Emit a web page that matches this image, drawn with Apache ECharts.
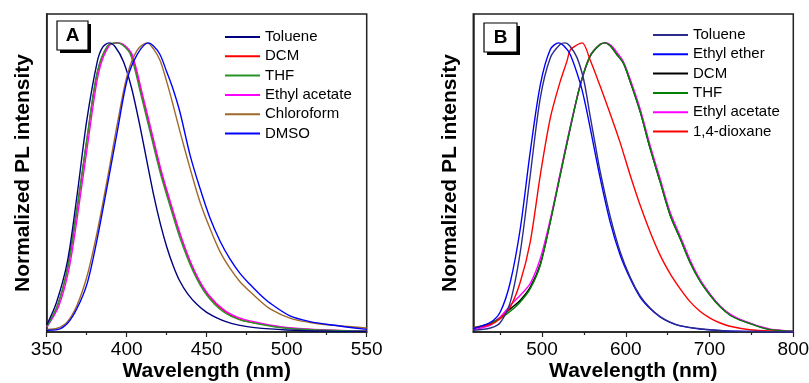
<!DOCTYPE html>
<html>
<head>
<meta charset="utf-8">
<script src="https://cdn.jsdelivr.net/npm/echarts@6/dist/echarts.min.js"></script>
<style>html,body{margin:0;padding:0;background:#fff}#c{width:809px;height:383px}</style>
</head>
<body>
<div id="c"></div>
<script>
// ---------- Panel A data (wavelength nm, normalized PL) ----------
const aToluene = [[350,0.024],[356,0.10],[363,0.245],[369,0.474],[375,0.73],[381.6,0.935],[385,0.985],[389,1.0],[393,0.985],[398,0.935],[403,0.845],[408,0.72],[413,0.58],[417,0.47],[421,0.375],[425,0.295],[429,0.23],[433,0.178],[438,0.133],[444,0.095],[450,0.068],[456,0.05],[462,0.036],[470,0.024],[480,0.015],[500,0.007],[525,0.003],[550,0.002]];
const aDCM = [[350,0.018],[356.6,0.088],[363,0.218],[369,0.425],[375.4,0.675],[381.6,0.895],[388,0.988],[394.5,1.0],[398.5,0.99],[403,0.958],[409,0.83],[417,0.647],[421.5,0.55],[425.5,0.474],[434,0.325],[442,0.21],[450.5,0.13],[461,0.072],[471,0.043],[483.5,0.028],[500,0.014],[525,0.006],[550,0.003]];
const aTHF = [[350,0.018],[356.6,0.09],[363,0.22],[369,0.43],[375.4,0.68],[381.6,0.90],[388,0.99],[394,1.0],[398,0.99],[402.5,0.958],[408.5,0.83],[416.6,0.647],[421,0.55],[425,0.474],[433.3,0.325],[441.6,0.209],[450,0.128],[460.4,0.07],[470.8,0.042],[483.3,0.027],[500,0.013],[525,0.006],[550,0.003]];
const aEthylAcetate = [[350,0.016],[357.6,0.09],[364,0.22],[370,0.43],[376.4,0.68],[382.6,0.90],[389,0.99],[395,1.0],[399,0.99],[403.5,0.958],[409.5,0.83],[417.6,0.647],[422,0.55],[426,0.474],[434.3,0.325],[442.6,0.209],[451,0.13],[461.4,0.074],[471.8,0.046],[484.3,0.03],[500,0.016],[525,0.007],[550,0.003]];
const aChloroform = [[350,0.009],[356.6,0.013],[363,0.036],[369,0.093],[375.4,0.197],[381.6,0.347],[388,0.532],[394,0.716],[400.4,0.89],[406.6,0.975],[412.7,1.0],[416.6,0.98],[420.8,0.94],[425,0.866],[429,0.785],[433.3,0.693],[439.6,0.566],[445.8,0.45],[452,0.359],[458.3,0.278],[464.6,0.22],[470.8,0.174],[477,0.14],[483.3,0.108],[489.6,0.08],[502,0.048],[514.6,0.033],[527,0.024],[550,0.014]];
const aDMSO = [[350,0.006],[356.6,0.008],[363,0.03],[369,0.082],[375.4,0.17],[381.6,0.323],[388,0.51],[394,0.69],[400.4,0.875],[406.6,0.96],[413.5,1.0],[416.6,0.99],[420.8,0.96],[425,0.90],[429,0.84],[433.3,0.76],[439.6,0.612],[445.8,0.497],[452,0.395],[458.3,0.315],[464.6,0.252],[470.8,0.203],[477,0.165],[483.3,0.13],[489.6,0.1],[502,0.056],[514.6,0.036],[527,0.025],[550,0.009]];

// ---------- Panel B data ----------
const bToluene = [[418,0.006],[438.4,0.014],[450.3,0.033],[462.2,0.104],[474.1,0.277],[486,0.543],[498,0.81],[509.9,0.948],[521.8,0.995],[527.8,1.0],[533,0.99],[541.7,0.95],[550,0.87],[557.6,0.745],[563.5,0.65],[569.5,0.555],[581.4,0.40],[593.3,0.278],[605.2,0.19],[617.1,0.125],[629,0.083],[641,0.053],[652.9,0.034],[664.8,0.022],[688.6,0.011],[720,0.004],[800,0.001]];
const bEthylEther = [[418,0.012],[438.4,0.033],[450.3,0.07],[462.2,0.173],[474.1,0.358],[486,0.624],[498,0.855],[509.9,0.977],[520,1.0],[526,0.99],[533.7,0.96],[545.7,0.86],[551.6,0.79],[557.6,0.705],[569.5,0.532],[581.4,0.38],[593.3,0.266],[605.2,0.185],[617.1,0.121],[629,0.081],[641,0.052],[652.9,0.033],[664.8,0.021],[688.6,0.01],[720,0.004],[800,0.001]];
const bDCM = [[418,0.012],[438.4,0.03],[450.3,0.05],[462.2,0.08],[474.1,0.11],[486,0.155],[498,0.235],[509.9,0.382],[521.8,0.545],[533.7,0.705],[545.7,0.855],[557.6,0.955],[569.5,0.995],[575.5,1.0],[581.4,0.99],[589.3,0.96],[597.2,0.93],[605.2,0.867],[617.1,0.763],[629,0.636],[641,0.52],[652.9,0.405],[664.8,0.324],[676.7,0.242],[688.6,0.178],[700.6,0.129],[712.5,0.089],[724.4,0.06],[736.3,0.043],[748.2,0.03],[760.2,0.018],[772.1,0.009],[784,0.005],[800,0.002]];
const bTHF = [[418,0.015],[438.4,0.03],[450.3,0.047],[462.2,0.072],[474.1,0.104],[486,0.15],[498,0.231],[509.9,0.38],[521.8,0.543],[533.7,0.705],[545.7,0.855],[557.6,0.955],[569.5,0.995],[575.5,1.0],[581.4,0.99],[589.3,0.96],[597.2,0.93],[605.2,0.867],[617.1,0.763],[629,0.636],[641,0.52],[652.9,0.405],[664.8,0.324],[676.7,0.24],[688.6,0.176],[700.6,0.127],[712.5,0.087],[724.4,0.058],[736.3,0.041],[748.2,0.029],[760.2,0.017],[772.1,0.008],[784,0.005],[800,0.002]];
const bEthylAcetate = [[418,0.008],[438.4,0.024],[450.3,0.052],[462.2,0.092],[474.1,0.127],[486,0.168],[498,0.254],[509.9,0.39],[521.8,0.55],[533.7,0.71],[545.7,0.855],[557.6,0.955],[569.5,0.995],[577,1.0],[583,0.99],[590,0.965],[597.2,0.935],[605.2,0.875],[617.1,0.772],[629,0.646],[641,0.53],[652.9,0.415],[664.8,0.333],[676.7,0.25],[688.6,0.182],[700.6,0.132],[712.5,0.09],[724.4,0.062],[736.3,0.044],[748.2,0.031],[760.2,0.019],[772.1,0.01],[784,0.006],[800,0.002]];
const bDioxane = [[418,0.015],[438.4,0.026],[450.3,0.047],[462.2,0.087],[474.1,0.173],[486,0.312],[498,0.543],[509.9,0.74],[521.8,0.867],[529.7,0.936],[533.7,0.975],[540,0.99],[548,1.0],[557.6,0.94],[569.5,0.85],[581.4,0.755],[593.3,0.655],[605.2,0.543],[617.1,0.439],[629,0.347],[641,0.266],[652.9,0.202],[664.8,0.15],[676.7,0.105],[688.6,0.072],[700.6,0.048],[712,0.032],[724.4,0.02],[748,0.008],[775,0.003],[800,0.001]];

// ---------- labels ----------
const aLegendOrder = ['Toluene','DCM','THF','Ethyl acetate','Chloroform','DMSO'];
const bLegendOrder = ['Toluene','Ethyl ether','DCM','THF','Ethyl acetate','1,4-dioxane'];
const aTicks = [350,400,450,500,550];
const bTicks = [500,600,700,800];
const bMinorTicks = [450,550,650,750];
const xTitle = 'Wavelength (nm)';
const yTitle = 'Normalized PL intensity';

const FONT = '"Liberation Sans", Arial, sans-serif';
const frame = '#222';

function ser(panel, name, data, color, xi, yi) {
  return {
    type: 'line', name: panel + '|' + name, data: data,
    xAxisIndex: xi, yAxisIndex: yi, showSymbol: false, symbol: 'none',
    smooth: 0.3, lineStyle: {color: color, width: 1.4}, itemStyle: {color: color},
    silent: true, animation: false
  };
}

const series = [
  ser('A','DCM',aDCM,'#ff0000',0,0),
  ser('A','Ethyl acetate',aEthylAcetate,'#ff00ff',0,0),
  ser('A','THF',aTHF,'#2a922a',0,0),
  ser('A','Toluene',aToluene,'#000080',0,0),
  ser('A','Chloroform',aChloroform,'#a0692a',0,0),
  ser('A','DMSO',aDMSO,'#0000ff',0,0),
  ser('B','DCM',bDCM,'#000000',1,1),
  ser('B','Ethyl acetate',bEthylAcetate,'#ff00ff',1,1),
  ser('B','THF',bTHF,'#008000',1,1),
  ser('B','1,4-dioxane',bDioxane,'#ff0000',1,1),
  ser('B','Ethyl ether',bEthylEther,'#0000ff',1,1),
  ser('B','Toluene',bToluene,'#2b2b8c',1,1)
];

const legendText = {color:'#000', fontFamily: FONT, fontSize: 15, lineHeight: 17};
function legend(panel, order, left, top) {
  return {
    orient: 'vertical', left: left, top: top, itemWidth: 35, itemHeight: 2,
    itemGap: 2.3, icon: 'rect', padding: 0, selectedMode: false,
    data: order.map(n => panel + '|' + n),
    formatter: n => n.split('|')[1],
    textStyle: legendText
  };
}

const axisLabelStyle = {color:'#000', fontFamily: FONT, fontSize: 19, margin: 8};
const nameStyle = {color:'#000', fontFamily: FONT, fontSize: 21, fontWeight: 'bold'};

const option = {
  animation: false,
  backgroundColor: '#fff',
  grid: [
    {left: 46.7, top: 14, width: 320, height: 318, show: true, borderColor: frame, borderWidth: 1.5, backgroundColor: 'transparent', containLabel: false, outerBoundsMode: 'none'},
    {left: 473.3, top: 14, width: 320, height: 318, show: true, borderColor: frame, borderWidth: 1.5, backgroundColor: 'transparent', containLabel: false, outerBoundsMode: 'none'}
  ],
  xAxis: [
    {type:'value', gridIndex:0, min:350, max:550, interval:50,
     axisLine:{show:true, lineStyle:{color:frame, width:1.5}},
     axisTick:{show:true, length:5, lineStyle:{color:frame, width:1.2}},
     minorTick:{show:true, splitNumber:2, length:3, lineStyle:{color:frame, width:1.2}},
     splitLine:{show:false}, axisLabel: axisLabelStyle,
     name: xTitle, nameLocation:'middle', nameGap: 29, nameMoveOverlap: false, nameTextStyle: nameStyle},
    {type:'value', gridIndex:1, min:418, max:800,
     axisLine:{show:true, lineStyle:{color:frame, width:1.5}},
     axisTick:{show:true, length:5, customValues: bTicks, lineStyle:{color:frame, width:1.2}},
     splitLine:{show:false}, axisLabel: Object.assign({customValues: bTicks}, axisLabelStyle),
     name: xTitle, nameLocation:'middle', nameGap: 29, nameMoveOverlap: false, nameTextStyle: nameStyle},
    {type:'value', gridIndex:1, min:418, max:800, position:'bottom',
     axisLine:{show:false},
     axisTick:{show:true, length:3, customValues: bMinorTicks, lineStyle:{color:frame, width:1.2}},
     splitLine:{show:false}, axisLabel:{show:false, customValues: []}}
  ],
  yAxis: [
    {type:'value', gridIndex:0, min:0, max:1.1,
     axisLine:{show:true, lineStyle:{color:frame, width:1.5}}, axisTick:{show:false},
     axisLabel:{show:false}, splitLine:{show:false},
     name: yTitle, nameLocation:'middle', nameGap: 13, nameMoveOverlap: false, nameTextStyle: nameStyle},
    {type:'value', gridIndex:1, min:0, max:1.1,
     axisLine:{show:true, lineStyle:{color:frame, width:1.5}}, axisTick:{show:false},
     axisLabel:{show:false}, splitLine:{show:false},
     name: yTitle, nameLocation:'middle', nameGap: 13, nameMoveOverlap: false, nameTextStyle: nameStyle}
  ],
  legend: [
    legend('A', aLegendOrder, 225, 28.5),
    legend('B', bLegendOrder, 653, 26.5)
  ],
  series: series,
  graphic: [
    {type:'rect', shape:{x:60, y:24, width:31, height:29}, style:{fill:'#000'}, z:100},
    {type:'rect', shape:{x:57, y:21, width:31, height:29}, style:{fill:'#fff', stroke:'#000', lineWidth:1.2}, z:101},
    {type:'text', x:72.5, y:36, z:102, style:{text:'A', font:'bold 19px ' + FONT, textAlign:'center', textVerticalAlign:'middle', align:'center', verticalAlign:'middle', fill:'#000'}},
    {type:'rect', shape:{x:487, y:26, width:33, height:29}, style:{fill:'#000'}, z:100},
    {type:'rect', shape:{x:484, y:23, width:33, height:29}, style:{fill:'#fff', stroke:'#000', lineWidth:1.2}, z:101},
    {type:'text', x:500.5, y:38, z:102, style:{text:'B', font:'bold 19px ' + FONT, textAlign:'center', textVerticalAlign:'middle', align:'center', verticalAlign:'middle', fill:'#000'}}
  ]
};

const chart = echarts.init(document.getElementById('c'), null, {renderer:'canvas'});
chart.setOption(option);
</script>
</body>
</html>
